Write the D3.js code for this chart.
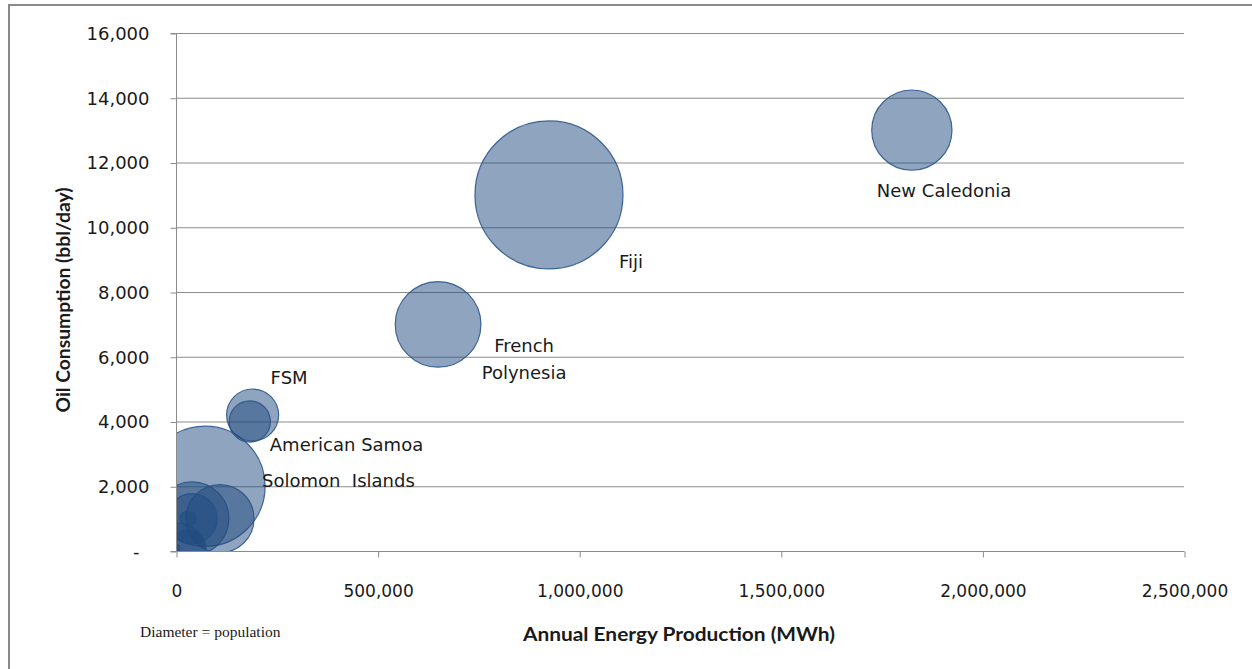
<!DOCTYPE html>
<html>
<head>
<meta charset="utf-8">
<script src="https://cdn.jsdelivr.net/npm/d3@7"></script>
<style>
  html, body { margin: 0; padding: 0; background: #fff; }
  svg { display: block; }
</style>
</head>
<body>
<svg id="chart" width="1252" height="669"></svg>
<script>
// ---- data ----
const names       = ["New Caledonia", "Fiji", "French Polynesia", "FSM", "American Samoa", "Solomon  Islands",
                     "", "", "", "", "", "", ""];
const energyMWh   = [1825000, 925000, 650000, 190000, 183000, 72000,
                     40000, 109000, 40000, 30000, 5000, 30000, 2000];
const oilBblDay   = [13000, 11000, 7000, 4200, 4000, 2000,
                     1000, 1000, 1000, 1000, 0, 100, 100];
const population  = [250000, 850000, 285000, 105000, 66000, 560000,
                     209000, 180000, 97000, 9500, 120000, 50000, 1500];
const xTicks      = [0, 500000, 1000000, 1500000, 2000000, 2500000];
const yTicks      = [0, 2000, 4000, 6000, 8000, 10000, 12000, 14000, 16000];
const xTitle      = "Annual Energy Production (MWh)";
const yTitle      = "Oil Consumption (bbl/day)";
const note        = "Diameter = population";

// ---- layout (label placement relative to bubble centre, in px) ----
const labelLayout = {
  "New Caledonia":    {dx: -35, dy: 60, anchor: "start", lines: ["New Caledonia"]},
  "Fiji":             {dx: 70,  dy: 67, anchor: "start", lines: ["Fiji"]},
  "French Polynesia": {dx: 86,  dy: 21, anchor: "middle", lines: ["French", "Polynesia"]},
  "FSM":              {dx: 18,  dy: -38, anchor: "start", lines: ["FSM"]},
  "American Samoa":   {dx: 20,  dy: 23, anchor: "start", lines: ["American Samoa"]},
  "Solomon  Islands": {dx: 57,  dy: -6, anchor: "start", lines: ["Solomon\u00a0\u00a0Islands"]}
};

const data = names.map((n, i) => ({name: n, x: energyMWh[i], y: oilBblDay[i], pop: population[i]}));

const svg = d3.select("#chart");
const pLeft = 176, pRight = 1184, pTop = 33, pBottom = 551;

const x = d3.scaleLinear().domain([0, 2500000]).range([pLeft, pRight]);
const y = d3.scaleLinear().domain([0, 16000]).range([pBottom, pTop]);
const r = d3.scaleSqrt().domain([0, 850000]).range([0, 74]);

// outer chart border
svg.append("rect")
  .attr("x", 9).attr("y", 5).attr("width", 1260).attr("height", 680)
  .attr("fill", "none").attr("stroke", "#8a8a8a").attr("stroke-width", 2);

// horizontal gridlines
svg.append("g")
  .selectAll("line").data(yTicks.filter(d => d > 0)).join("line")
  .attr("x1", pLeft).attr("x2", pRight)
  .attr("y1", d => y(d) + 0.5).attr("y2", d => y(d) + 0.5)
  .attr("stroke", "#8c8c8c").attr("stroke-width", 1);

// y axis
const yAxis = d3.axisLeft(y).tickValues(yTicks).tickSize(6).tickPadding(21)
  .tickFormat(d => d === 0 ? "-" : d3.format(",")(d));
const gy = svg.append("g").attr("transform", `translate(${pLeft + 0.5},0.5)`).call(yAxis);
gy.select(".domain").attr("stroke", "#8c8c8c").attr("d", `M-6,${pBottom}H0V${pTop}H-6`);
gy.selectAll(".tick line").attr("stroke", "#8c8c8c");
gy.selectAll(".tick text")
  .attr("font-family", "DejaVu Sans, sans-serif").attr("font-size", 18)
  .attr("fill", "#1a1a1a")
  .attr("dx", d => d === 0 ? -10 : 0);

// x axis
const xAxis = d3.axisBottom(x).tickValues(xTicks).tickSize(6).tickPadding(27)
  .tickFormat(d3.format(","));
const gx = svg.append("g").attr("transform", `translate(0.5,${pBottom + 0.5})`).call(xAxis);
gx.select(".domain").attr("stroke", "#8c8c8c").attr("d", `M${pLeft},0H${pRight}`);
gx.selectAll(".tick line").attr("stroke", "#8c8c8c");
gx.selectAll(".tick text")
  .attr("font-family", "DejaVu Sans, sans-serif").attr("font-size", 17)
  .attr("fill", "#1a1a1a");

// clip for bubbles
svg.append("clipPath").attr("id", "plotclip")
  .append("rect").attr("x", pLeft + 1).attr("y", pTop - 200)
  .attr("width", pRight - pLeft).attr("height", pBottom - pTop + 200);

// bubbles (largest drawn first)
const sorted = data.slice().sort((a, b) => b.pop - a.pop);
svg.append("g").attr("clip-path", "url(#plotclip)")
  .selectAll("circle").data(sorted).join("circle")
  .attr("cx", d => x(d.x)).attr("cy", d => y(d.y)).attr("r", d => r(d.pop))
  .attr("fill", "#1F497D").attr("fill-opacity", 0.5)
  .attr("stroke", "#24508a").attr("stroke-opacity", 0.85).attr("stroke-width", 1.2);

// data labels
const lg = svg.append("g")
  .attr("font-family", "DejaVu Sans, sans-serif").attr("font-size", 18).attr("fill", "#1a1a1a");
data.filter(d => d.name && labelLayout[d.name]).forEach(d => {
  const L = labelLayout[d.name];
  L.lines.forEach((t, k) => {
    lg.append("text")
      .attr("x", x(d.x) + L.dx)
      .attr("y", y(d.y) + L.dy + k * 27)
      .attr("text-anchor", L.anchor)
      .attr("dominant-baseline", "central")
      .text(t);
  });
});

// axis titles
svg.append("text")
  .attr("transform", `translate(62,300) rotate(-90)`)
  .attr("text-anchor", "middle").attr("dominant-baseline", "central")
  .attr("font-family", "Lato, sans-serif").attr("font-weight", "bold").attr("font-size", 19)
  .attr("textLength", 225).attr("lengthAdjust", "spacingAndGlyphs")
  .attr("fill", "#1a1a1a").text(yTitle);

svg.append("text")
  .attr("x", 679).attr("y", 633)
  .attr("text-anchor", "middle").attr("dominant-baseline", "central")
  .attr("font-family", "Lato, sans-serif").attr("font-weight", "bold").attr("font-size", 19.5)
  .attr("textLength", 312).attr("lengthAdjust", "spacingAndGlyphs")
  .attr("fill", "#1a1a1a").text(xTitle);

// note
svg.append("text")
  .attr("x", 140).attr("y", 631)
  .attr("dominant-baseline", "central")
  .attr("font-family", "Liberation Serif, serif").attr("font-size", 15.5)
  .attr("fill", "#1a1a1a").text(note);
</script>
</body>
</html>
